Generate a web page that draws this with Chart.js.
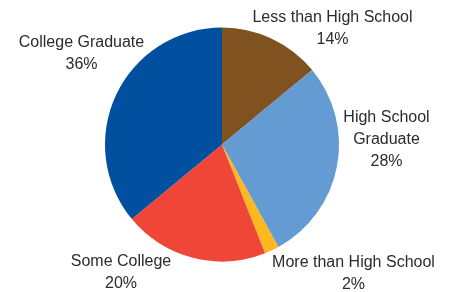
<!DOCTYPE html>
<html>
<head>
<meta charset="utf-8">
<script src="https://cdn.jsdelivr.net/npm/chart.js@4"></script>
<style>
  html, body { margin: 0; padding: 0; background: #ffffff; }
  #wrap { width: 450px; height: 292px; position: relative; }
</style>
</head>
<body>
<div id="wrap"><canvas id="c" width="450" height="292"></canvas></div>
<script>
const categories = ["Less than High School", "High School Graduate", "More than High School", "Some College", "College Graduate"];
const shares = [14, 28, 2, 20, 36];
const sliceColors = ["#7F5220", "#659BD3", "#FDB71F", "#EF4638", "#00509F"];
// label lines as displayed (text only)
const labelLines = [
  ["Less than High School", "14%"],
  ["High School", "Graduate", "28%"],
  ["More than High School", "2%"],
  ["Some College", "20%"],
  ["College Graduate", "36%"]
];
// label anchor offsets relative to pie center (layout, not data)
const labelOffsets = [
  [110.5, -126.5], [164.5, -26.5], [131.5, 118.5], [-101, 117.5], [-140.5, -101.5]
];

const labelPlugin = {
  id: 'sliceLabels',
  afterDatasetsDraw(chart) {
    const ctx = chart.ctx;
    const meta = chart.getDatasetMeta(0);
    ctx.save();
    ctx.font = '16px "Liberation Sans", Arial, sans-serif';
    ctx.fillStyle = '#2b2b2b';
    ctx.textAlign = 'center';
    ctx.textBaseline = 'middle';
    meta.data.forEach((arc, i) => {
      const cx = arc.x, cy = arc.y;
      const [ox, oy] = labelOffsets[i];
      const lines = labelLines[i];
      const lh = 22;
      lines.forEach((t, j) => {
        ctx.fillText(t, cx + ox, cy + oy + j * lh);
      });
    });
    ctx.restore();
  }
};

new Chart(document.getElementById('c'), {
  type: 'pie',
  data: {
    labels: categories,
    datasets: [{
      data: shares,
      backgroundColor: sliceColors,
      borderWidth: 0,
      hoverOffset: 0
    }]
  },
  options: {
    responsive: false,
    animation: false,
    layout: { padding: { top: 27.5, bottom: 30.5, left: 100, right: 106 } },
    plugins: { legend: { display: false }, tooltip: { enabled: false } }
  },
  plugins: [labelPlugin]
});
</script>
</body>
</html>
